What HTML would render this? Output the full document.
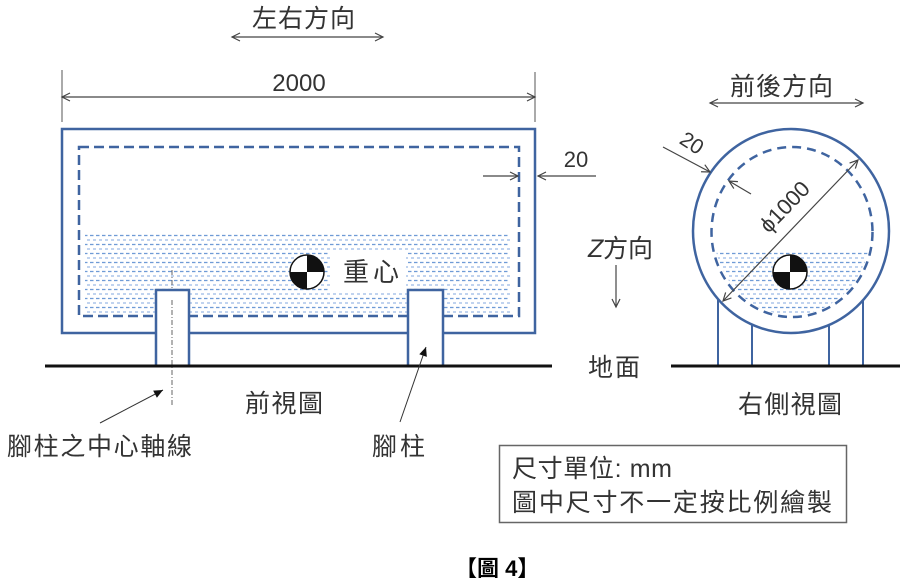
<!DOCTYPE html>
<html><head><meta charset="utf-8"><style>
html,body{margin:0;padding:0;background:#fff;}
svg{display:block;}
text{font-family:"Liberation Sans","Noto Sans CJK TC",sans-serif;fill:#333;}
</style></head><body>
<svg width="907" height="578" viewBox="0 0 907 578" xmlns="http://www.w3.org/2000/svg">
<defs>
<marker id="oa" viewBox="-10 -6 12 12" markerWidth="12" markerHeight="12" refX="0" refY="0" orient="auto-start-reverse" markerUnits="userSpaceOnUse">
<path d="M-8,-4 L0,0 L-8,4" fill="none" stroke="#444" stroke-width="1.2"/>
</marker>
<marker id="fa" viewBox="-10 -6 12 12" markerWidth="12" markerHeight="12" refX="0" refY="0" orient="auto" markerUnits="userSpaceOnUse">
<path d="M-9,-4 L0,0 L-9,4 Z" fill="#111"/>
</marker>
<pattern id="fl" patternUnits="userSpaceOnUse" width="6" height="9">
<line x1="0" y1="1.5" x2="3.5" y2="1.5" stroke="#6f9bd6" stroke-width="1.3"/>
<line x1="3" y1="6" x2="6" y2="6" stroke="#9dbbe6" stroke-width="1.3"/>
</pattern>
<clipPath id="cc"><ellipse cx="792" cy="232" rx="78" ry="83"/></clipPath>
</defs>

<!-- top direction label -->
<text x="252" y="27" font-size="25" textLength="103">左右方向</text>
<line x1="232" y1="37" x2="383" y2="37" stroke="#444" stroke-width="1.2" marker-start="url(#oa)" marker-end="url(#oa)"/>

<!-- 2000 dimension -->
<line x1="62" y1="70" x2="62" y2="122" stroke="#555" stroke-width="1"/>
<line x1="535" y1="72" x2="535" y2="122" stroke="#555" stroke-width="1"/>
<line x1="62" y1="97" x2="535" y2="97" stroke="#444" stroke-width="1.2" marker-start="url(#oa)" marker-end="url(#oa)"/>
<text x="299" y="91" font-size="24" text-anchor="middle">2000</text>

<!-- front view fluid -->
<rect x="85" y="232" width="425" height="81" fill="url(#fl)"/>
<rect x="330" y="251" width="76" height="40" fill="#fff"/>

<!-- front tank -->
<rect x="79" y="147" width="440" height="169" fill="none" stroke="#3f64a0" stroke-width="2.5" stroke-dasharray="10 5"/>
<rect x="62" y="129" width="473" height="204" fill="none" stroke="#3f64a0" stroke-width="2.5"/>

<!-- CG front -->
<circle cx="307" cy="272" r="17" fill="#fff" stroke="#111" stroke-width="1.5"/>
<path d="M307,272 L307,255 A17,17 0 0 1 324,272 Z" fill="#111"/>
<path d="M307,272 L307,289 A17,17 0 0 1 290,272 Z" fill="#111"/>
<text x="343" y="281" font-size="26" textLength="56">重心</text>

<!-- center axis -->
<line x1="172" y1="270" x2="172" y2="406" stroke="#666" stroke-width="1" stroke-dasharray="5 2 1 2"/>

<!-- legs -->
<rect x="156" y="290" width="33" height="76" fill="#fff" stroke="#3f64a0" stroke-width="2.5"/>
<rect x="408" y="290" width="35" height="76" fill="#fff" stroke="#3f64a0" stroke-width="2.5"/>
<line x1="172" y1="300" x2="172" y2="366" stroke="#666" stroke-width="1" stroke-dasharray="5 2 1 2"/>

<!-- ground front -->
<line x1="45" y1="366" x2="552" y2="366" stroke="#111" stroke-width="3"/>

<!-- 20 right dimension -->
<text x="576" y="167" font-size="22" text-anchor="middle">20</text>
<line x1="596" y1="176" x2="538" y2="176" stroke="#444" stroke-width="1.2" marker-end="url(#oa)"/>
<line x1="483" y1="176" x2="518" y2="176" stroke="#444" stroke-width="1.2" marker-end="url(#oa)"/>

<!-- Z direction -->
<text x="588" y="257" font-size="25" textLength="65"><tspan font-style="italic">Z</tspan>方向</text>
<line x1="616" y1="265" x2="616" y2="307" stroke="#444" stroke-width="1.2" marker-end="url(#oa)"/>
<text x="588" y="376" font-size="25" textLength="52">地面</text>

<!-- labels front -->
<text x="245" y="412" font-size="25" textLength="78">前視圖</text>
<text x="7" y="455" font-size="25" textLength="185">腳柱之中心軸線</text>
<text x="372" y="455" font-size="25" textLength="53">腳柱</text>
<line x1="100" y1="423" x2="163" y2="390" stroke="#333" stroke-width="1" marker-end="url(#fa)"/>
<line x1="400" y1="422" x2="426" y2="347" stroke="#333" stroke-width="1" marker-end="url(#fa)"/>

<!-- right view -->
<text x="730" y="95" font-size="25" textLength="103">前後方向</text>
<line x1="710" y1="103" x2="863" y2="103" stroke="#444" stroke-width="1.2" marker-start="url(#oa)" marker-end="url(#oa)"/>

<rect x="710" y="250" width="165" height="75" fill="url(#fl)" clip-path="url(#cc)"/>

<!-- right legs -->
<line x1="718" y1="299" x2="718" y2="366" stroke="#3f64a0" stroke-width="2"/>
<line x1="752" y1="325" x2="752" y2="366" stroke="#3f64a0" stroke-width="2"/>
<line x1="829" y1="326" x2="829" y2="366" stroke="#3f64a0" stroke-width="2"/>
<line x1="863" y1="300" x2="863" y2="366" stroke="#3f64a0" stroke-width="2"/>

<ellipse cx="792" cy="232" rx="80.5" ry="85" fill="none" stroke="#3f64a0" stroke-width="2.5" stroke-dasharray="9 6"/>
<ellipse cx="791" cy="231" rx="98" ry="102" fill="none" stroke="#3f64a0" stroke-width="2.5"/>

<circle cx="790" cy="272" r="17" fill="#fff" stroke="#111" stroke-width="1.5"/>
<path d="M790,272 L790,255 A17,17 0 0 1 807,272 Z" fill="#111"/>
<path d="M790,272 L790,289 A17,17 0 0 1 773,272 Z" fill="#111"/>

<line x1="723" y1="301" x2="858" y2="160" stroke="#444" stroke-width="1.2" marker-start="url(#oa)" marker-end="url(#oa)"/>
<text x="0" y="0" font-size="22" text-anchor="middle" transform="translate(790,212) rotate(-46)">ϕ1000</text>

<text x="0" y="0" font-size="21" text-anchor="middle" transform="translate(688,149) rotate(33)">20</text>
<line x1="663" y1="147" x2="710" y2="172" stroke="#444" stroke-width="1.2" marker-end="url(#oa)"/>
<line x1="751" y1="194" x2="729" y2="181" stroke="#444" stroke-width="1.2" marker-end="url(#oa)"/>

<line x1="671" y1="366" x2="900" y2="366" stroke="#111" stroke-width="3"/>
<text x="738" y="413" font-size="25" textLength="104">右側視圖</text>

<!-- note box -->
<rect x="499.5" y="445.5" width="347" height="77" fill="#fff" stroke="#666" stroke-width="1.5"/>
<text x="512" y="477" font-size="25" textLength="160">尺寸單位: mm</text>
<text x="512" y="511" font-size="25" textLength="320">圖中尺寸不一定按比例繪製</text>

<!-- caption -->
<text x="455" y="576" font-size="22" font-weight="bold" style="fill:#000">【圖 4】</text>
</svg>
</body></html>
